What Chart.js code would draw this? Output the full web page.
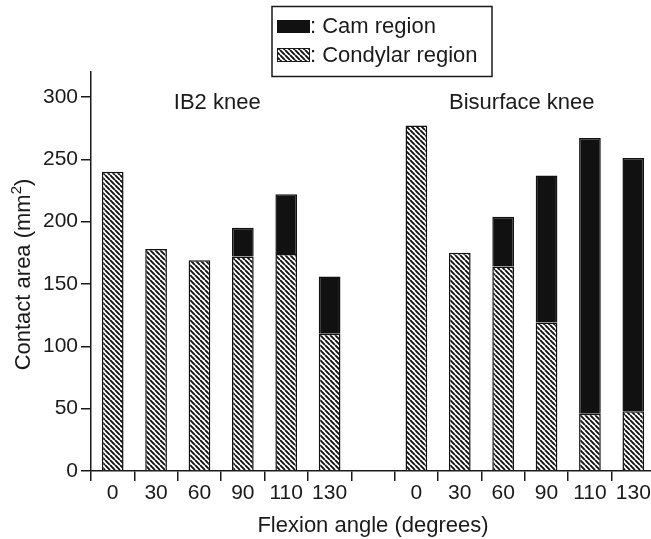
<!DOCTYPE html>
<html>
<head>
<meta charset="utf-8">
<script src="https://cdn.jsdelivr.net/npm/chart.js@4"></script>
<style>
  html, body { margin: 0; padding: 0; background: #fff; overflow: hidden; }
  #wrap { width: 655px; height: 539px; }
</style>
</head>
<body>
<div id="wrap"><canvas id="chart" width="655" height="539"></canvas></div>
<script>
// flexion angles, IB2 knee then Bisurface knee (blank slot between groups)
const angles = ['0', '30', '60', '90', '110', '130', '', '0', '30', '60', '90', '110', '130'];
const condylarArea = [240, 178, 169, 172, 174, 110, null, 277, 175, 164, 119, 46, 48];
const camArea = [null, null, null, 23, 48, 46, null, null, null, 40, 118, 221, 203];
const yTicks = [0, 50, 100, 150, 200, 250, 300];
const groupNames = ['IB2 knee', 'Bisurface knee'];

const FONT = 'Liberation Sans, Arial, Helvetica, sans-serif';
const INK = '#1a1a1a';

// diagonal hatch for the condylar region
function hatch() {
  const s = 5;
  const c = document.createElement('canvas');
  c.width = s; c.height = s;
  const g = c.getContext('2d');
  g.fillStyle = '#fff';
  g.fillRect(0, 0, s, s);
  g.strokeStyle = '#111';
  g.lineWidth = 1.9;
  g.beginPath();
  [-s, 0, s].forEach(function (k) {
    g.moveTo(k, 0);
    g.lineTo(k + s, s);
  });
  g.stroke();
  return g.createPattern(c, 'repeat');
}

const ctx = document.getElementById('chart').getContext('2d');
const hatchFill = hatch();

// group captions, y title with a real superscript, boxed legend
const extras = {
  id: 'extras',
  afterDraw(chart) {
    const c = chart.ctx;
    const x = chart.scales.x, y = chart.scales.y;
    c.save();
    c.font = '22px ' + FONT;
    c.fillStyle = INK;
    c.textAlign = 'center';
    c.textBaseline = 'middle';
    c.fillText(groupNames[0], x.getPixelForValue(2.41), y.getPixelForValue(295));
    c.fillText(groupNames[1], x.getPixelForValue(9.43), y.getPixelForValue(295));

    // y axis title
    const main = 'Contact area (mm', sup = '2', close = ')';
    c.font = '22px ' + FONT;
    const w1 = c.measureText(main).width, w3 = c.measureText(close).width;
    c.font = '15px ' + FONT;
    const w2 = c.measureText(sup).width;
    const total = w1 + w2 + w3;
    const mid = (chart.chartArea.top + chart.chartArea.bottom) / 2 + 3;
    c.translate(29.5, mid);
    c.rotate(-Math.PI / 2);
    c.textAlign = 'left';
    c.textBaseline = 'alphabetic';
    c.font = '22px ' + FONT;
    c.fillText(main, -total / 2, 0);
    c.font = '15px ' + FONT;
    c.fillText(sup, -total / 2 + w1, -9);
    c.font = '22px ' + FONT;
    c.fillText(close, -total / 2 + w1 + w2, 0);
    c.setTransform(1, 0, 0, 1, 0, 0);

    // legend box
    c.lineWidth = 1.5;
    c.strokeStyle = INK;
    c.strokeRect(272, 6.5, 220, 70);
    c.fillStyle = '#111';
    c.fillRect(277, 20, 33, 13);
    c.fillStyle = hatchFill;
    c.fillRect(277, 48, 33, 14);
    c.lineWidth = 1;
    c.strokeRect(277.5, 48.5, 32, 13);
    c.fillStyle = INK;
    c.font = '22px ' + FONT;
    c.textAlign = 'left';
    c.textBaseline = 'middle';
    c.fillText(': Cam region', 310, 27);
    c.fillText(': Condylar region', 310, 56);
    c.restore();
  }
};

new Chart(ctx, {
  type: 'bar',
  data: {
    labels: angles,
    datasets: [
      {
        label: 'Condylar region',
        data: condylarArea,
        backgroundColor: hatchFill,
        borderColor: '#111',
        borderWidth: 1.5,
        barPercentage: 0.5,
        categoryPercentage: 1
      },
      {
        label: 'Cam region',
        data: camArea,
        backgroundColor: '#111',
        borderColor: '#111',
        borderWidth: 1.5,
        barPercentage: 0.5,
        categoryPercentage: 1
      }
    ]
  },
  options: {
    responsive: false,
    animation: false,
    layout: { padding: { top: 72, right: 0, bottom: 0, left: 0 } },
    plugins: {
      legend: { display: false },
      tooltip: { enabled: false }
    },
    scales: {
      x: {
        stacked: true,
        afterFit: function (s) { s.height = 68; },
        grid: { offset: true, drawOnChartArea: false, tickLength: 10, color: INK, lineWidth: 1.5 },
        border: { display: true, color: INK, width: 1.5 },
        ticks: { color: INK, padding: 0, maxRotation: 0, autoSkip: false, font: { family: FONT, size: 21 } },
        title: {
          display: true,
          text: 'Flexion angle (degrees)',
          color: INK,
          padding: { top: 0, bottom: 0 },
          font: { family: FONT, size: 22 }
        }
      },
      y: {
        stacked: true,
        min: 0,
        max: 320,
        afterFit: function (s) { s.width = 91; },
        afterBuildTicks: function (s) { s.ticks = yTicks.map(function (v) { return { value: v }; }); },
        grid: { drawOnChartArea: false, tickLength: 10, color: INK, lineWidth: 1.5 },
        border: { display: true, color: INK, width: 1.5 },
        ticks: { color: INK, padding: 3, font: { family: FONT, size: 21 } },
        title: { display: false }
      }
    }
  },
  plugins: [extras]
});
</script>
</body>
</html>
